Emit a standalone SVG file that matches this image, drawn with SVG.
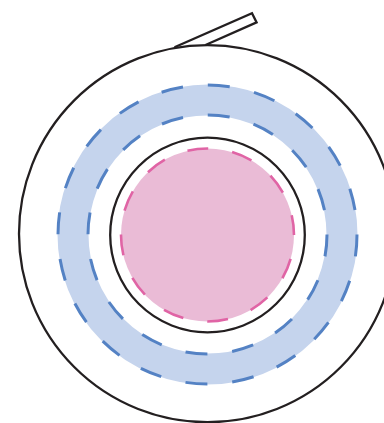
<svg xmlns="http://www.w3.org/2000/svg" width="384" height="423" viewBox="0 0 384 423">
<style>
.outline{fill:none;stroke:#231f20;stroke-width:2.3}
.band{fill:none;stroke:#c5d4ed;stroke-width:31}
.bdash{fill:none;stroke:#5482c4;stroke-width:3}
.pdash{fill:none;stroke:#e064a5;stroke-width:2.6}
</style>
<rect width="384" height="423" fill="#ffffff"/>
<g id="outer-body">
<circle cx="207.5" cy="233.7" r="188.5" fill="#ffffff" stroke="#231f20" stroke-width="2.3"/>
</g>
<g id="tab">
<polyline class="outline" points="174.5,47.2 252,13.2 256.6,22.4 205.5,45" stroke-linejoin="miter"/>
</g>
<g id="blue-ring">
<circle class="band" cx="207.5" cy="234.5" r="134.5"/>
<circle class="bdash" cx="207.5" cy="234.5" r="149.5" stroke-dasharray="22 24.97"/>
<circle class="bdash" cx="207.5" cy="234.5" r="119.5" stroke-dasharray="22 24.93"/>
</g>
<g id="inner-circle">
<circle class="outline" cx="207.5" cy="235" r="97.3"/>
</g>
<g id="pink-core">
<circle cx="207.5" cy="235" r="86.5" fill="#eabbd6" stroke="#e064a5" stroke-width="2.6" stroke-dasharray="21 24.3" stroke-dashoffset="21"/>
</g>
</svg>
